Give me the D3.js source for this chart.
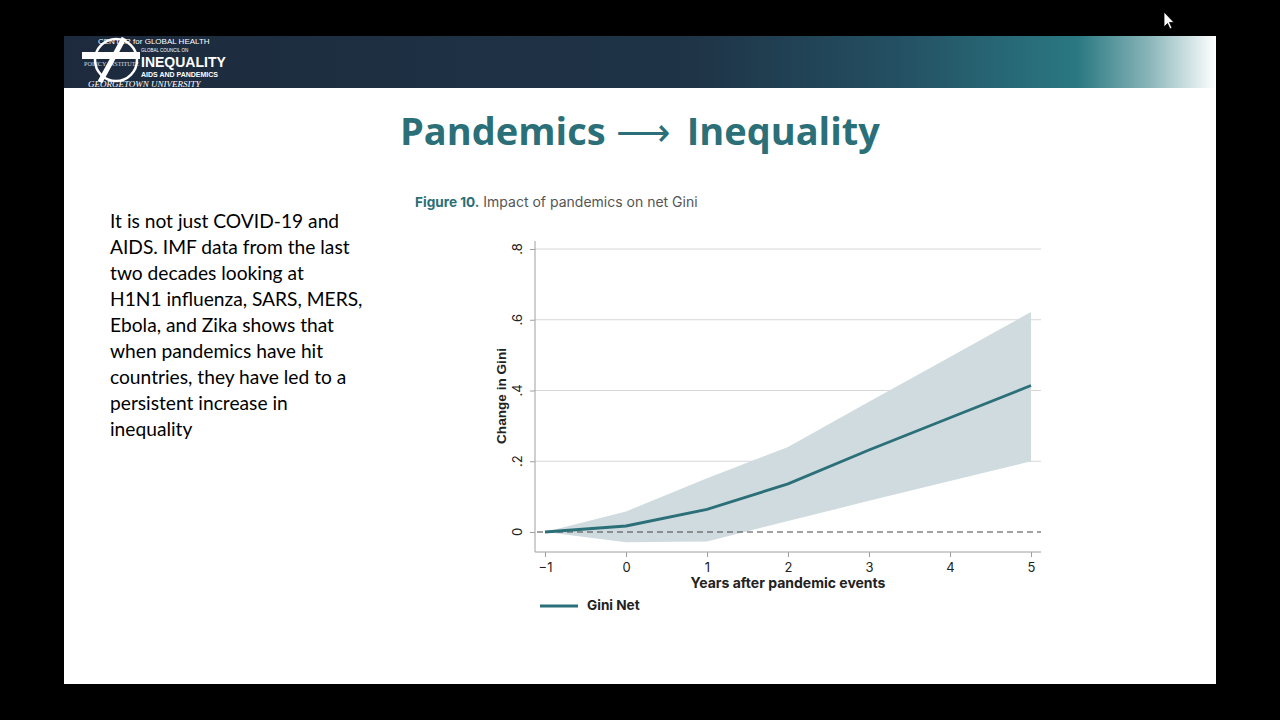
<!DOCTYPE html>
<meta charset="utf-8">
<script src="https://d3js.org/d3.v7.min.js"></script>
<style>
  body { margin: 0; background: #000; }
  svg { display: block; }
</style>
<body>
<div id="visual"></div>
<script>

// data
var years = [-1, 0, 1, 2, 3, 4, 5];
var giniNet = [0, 0.017, 0.064, 0.136, 0.232, 0.323, 0.414];
var upperCI = [0, 0.058, 0.152, 0.24, 0.368, 0.495, 0.622];
var lowerCI = [0, -0.029, -0.027, 0.031, 0.088, 0.144, 0.2];
var yTicks = [0, 0.2, 0.4, 0.6, 0.8];
var yTickLabels = ["0", ".2", ".4", ".6", ".8"];
var paragraph = [
  "It is not just COVID-19 and",
  "AIDS. IMF data from the last",
  "two decades looking at",
  "H1N1 influenza, SARS, MERS,",
  "Ebola, and Zika shows that",
  "when pandemics have hit",
  "countries, they have led to a",
  "persistent increase in",
  "inequality"
];

var teal = "#2b6f78";

var svg = d3.select("#visual")
  .append("svg")
    .attr("width", 1280)
    .attr("height", 720);

// slide background
svg.append("rect")
  .attr("x", 64).attr("y", 36)
  .attr("width", 1152).attr("height", 648)
  .attr("fill", "#ffffff");

// header bar with gradient on the right
var defs = svg.append("defs");
var grad = defs.append("linearGradient").attr("id", "hdr")
  .attr("x1", "0").attr("x2", "1").attr("y1", "0").attr("y2", "0");
grad.append("stop").attr("offset", "0").attr("stop-color", "#1d2a3d");
grad.append("stop").attr("offset", "0.55").attr("stop-color", "#1f3447");
grad.append("stop").attr("offset", "0.72").attr("stop-color", "#244f62");
grad.append("stop").attr("offset", "0.88").attr("stop-color", "#2a7882");
grad.append("stop").attr("offset", "0.94").attr("stop-color", "#86b3b7");
grad.append("stop").attr("offset", "1").attr("stop-color", "#ffffff");
svg.append("rect")
  .attr("x", 64).attr("y", 36)
  .attr("width", 1152).attr("height", 52)
  .attr("fill", "url(#hdr)");

// logo (rough)
var logo = svg.append("g").attr("fill", "#fff");
svg.append("circle").attr("cx", 116).attr("cy", 60).attr("r", 21)
  .attr("fill", "none").attr("stroke", "#fff").attr("stroke-width", 2.5);
svg.append("line").attr("x1", 100).attr("y1", 82).attr("x2", 124).attr("y2", 38)
  .attr("stroke", "#fff").attr("stroke-width", 5);
svg.append("rect").attr("x", 82).attr("y", 52).attr("width", 58).attr("height", 7).attr("fill", "#fff");
logo.append("text").attr("x", 98).attr("y", 44)
  .style("font", "8px 'Liberation Sans'").text("CENTER for GLOBAL HEALTH");
logo.append("text").attr("x", 141).attr("y", 51.5)
  .style("font", "4.5px 'Liberation Sans'").text("GLOBAL COUNCIL ON");
logo.append("text").attr("x", 84).attr("y", 66)
  .style("font", "6.2px 'Liberation Serif'").attr("opacity", 0.8).text("POLICY INSTITUTE");
logo.append("text").attr("x", 141).attr("y", 66.5)
  .style("font", "bold 14px 'Liberation Sans'").text("INEQUALITY");
logo.append("text").attr("x", 141).attr("y", 76.5)
  .style("font", "bold 7px 'Liberation Sans'").text("AIDS AND PANDEMICS");
logo.append("text").attr("x", 88).attr("y", 86.5)
  .style("font", "italic 9px 'Liberation Serif'").text("GEORGETOWN UNIVERSITY");

// slide title
var title = svg.append("text")
  .attr("x", 400).attr("y", 145)
  .attr("fill", teal)
  .style("font", "bold 38px 'Open Sans'");
title.append("tspan").text("Pandemics");
title.append("tspan").attr("dx", 10).style("font-weight", "normal").text("\u27F6");
title.append("tspan").attr("dx", 17).text("Inequality");

// paragraph
svg.append("g").selectAll("text")
  .data(paragraph)
  .enter().append("text")
    .attr("x", 110)
    .attr("y", function(d, i) { return 228 + i * 26; })
    .attr("fill", "#000")
    .style("font", "19.2px Lato")
    .text(function(d) { return d; });

// figure caption
var cap = svg.append("text")
  .attr("x", 415).attr("y", 207)
  .style("font", "14px Inter");
cap.append("tspan").attr("fill", teal).attr("font-weight", "bold").style("font-size", "13.6px").text("Figure 10.");
cap.append("tspan").attr("fill", "#555").text(" Impact of pandemics on net Gini");

// scales
var x = d3.scaleLinear().domain([-1, 5]).range([545, 1031]);
var y = d3.scaleLinear().domain([0, 0.8]).range([532, 249]);

// gridlines
svg.append("g").selectAll("line")
  .data(yTicks.slice(1))
  .enter().append("line")
    .attr("x1", 535).attr("x2", 1041)
    .attr("y1", function(d) { return y(d); })
    .attr("y2", function(d) { return y(d); })
    .attr("stroke", "#d6d6d6").attr("stroke-width", 1);

// confidence band
var rows = years.map(function(yr, i) {
  return { yr: yr, v: giniNet[i], lo: lowerCI[i], hi: upperCI[i] };
});
svg.append("path")
  .datum(rows)
  .attr("fill", "#cfdbde")
  .attr("d", d3.area()
    .x(function(d) { return x(d.yr); })
    .y0(function(d) { return y(d.lo); })
    .y1(function(d) { return y(d.hi); }));

// zero reference
svg.append("line")
  .attr("x1", 537).attr("x2", 1041)
  .attr("y1", y(0)).attr("y2", y(0))
  .attr("stroke", "#444").attr("stroke-width", 1)
  .attr("stroke-dasharray", "6,4");

// line
svg.append("path")
  .datum(rows)
  .attr("fill", "none")
  .attr("stroke", teal)
  .attr("stroke-width", 2.8)
  .attr("d", d3.line()
    .x(function(d) { return x(d.yr); })
    .y(function(d) { return y(d.v); }));

// y axis
var yAxis = svg.append("g")
  .attr("transform", "translate(535,0)")
  .call(d3.axisLeft(y).tickValues(yTicks).tickSize(5).tickFormat(""));
yAxis.select(".domain").attr("d", "M0,241V552");
yAxis.selectAll("path, line").attr("stroke", "#a0a0a0");
svg.append("g").selectAll("text")
  .data(yTicks)
  .enter().append("text")
    .attr("transform", function(d) { return "translate(522," + y(d) + ") rotate(-90)"; })
    .attr("text-anchor", "middle")
    .attr("fill", "#222")
    .style("font", "13px Inter")
    .text(function(d, i) { return yTickLabels[i]; });
svg.append("text")
  .attr("transform", "translate(506,396) rotate(-90)")
  .attr("text-anchor", "middle")
  .attr("fill", "#222")
  .style("font", "bold 13.6px 'Liberation Sans'")
  .text("Change in Gini");

// x axis
var xAxis = svg.append("g")
  .attr("transform", "translate(0,552)")
  .call(d3.axisBottom(x).tickValues(years).tickSize(5).tickFormat(d3.format("d")));
xAxis.select(".domain").attr("d", "M535,0H1041");
xAxis.selectAll("path, line").attr("stroke", "#a0a0a0");
xAxis.selectAll("text")
  .attr("fill", "#222")
  .attr("dy", "0.95em")
  .style("font", "13px Inter");
svg.append("text")
  .attr("x", 788).attr("y", 588)
  .attr("text-anchor", "middle")
  .attr("fill", "#222")
  .style("font", "bold 14px Inter")
  .text("Years after pandemic events");

// legend
svg.append("line")
  .attr("x1", 540).attr("x2", 578)
  .attr("y1", 606).attr("y2", 606)
  .attr("stroke", teal).attr("stroke-width", 2.8);
svg.append("text")
  .attr("x", 587).attr("y", 610)
  .attr("fill", "#222")
  .style("font", "bold 13.6px Inter")
  .text("Gini Net");

// mouse cursor
svg.append("path")
  .attr("d", "M1164,12 L1164,27 L1167.5,23.5 L1170,29 L1172,28 L1169.5,22.5 L1174,22.5 Z")
  .attr("fill", "#fff").attr("stroke", "#000").attr("stroke-width", 0.8);

</script>
</body>
